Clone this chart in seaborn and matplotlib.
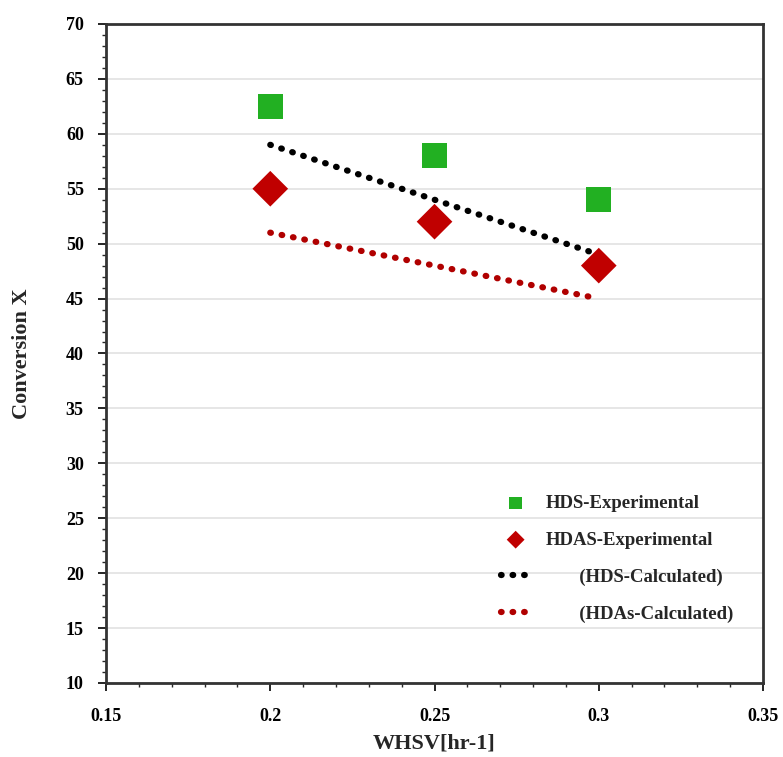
import numpy as np
import pandas as pd
import matplotlib
matplotlib.use("Agg")
import matplotlib.pyplot as plt
import matplotlib.ticker as mticker
import seaborn as sns

# data
whsv = [0.20, 0.25, 0.30]
hds_exp = [62.5, 58.0, 54.0]
hdas_exp = [55.0, 52.0, 48.0]
hds_calc = [59.0, 54.0, 49.0]
hdas_calc = [51.0, 48.0, 45.0]

sns.set_style("white")
plt.rcParams["font.family"] = ["Liberation Serif", "DejaVu Serif"]
plt.rcParams["font.weight"] = "bold"

fig = plt.figure(figsize=(7.83, 7.57), dpi=100)
ax = fig.add_axes([0.1354, 0.0978, 0.8391, 0.8705])

ax.grid(axis="y", color="#e2e2e2", linewidth=1.2)
ax.set_axisbelow(True)

sns.lineplot(x=whsv, y=hds_calc, ax=ax, color="black", linewidth=4.5,
             linestyle=(0, (0.1, 1.75)), dash_capstyle="round",
             label="       (HDS-Calculated)")
sns.lineplot(x=whsv, y=hdas_calc, ax=ax, color="#b00000", linewidth=4.5,
             linestyle=(0, (0.1, 1.75)), dash_capstyle="round",
             label="       (HDAs-Calculated)")
sns.scatterplot(x=whsv, y=hds_exp, ax=ax, marker="s", s=330, color="#22b022",
                edgecolor="none", label="HDS-Experimental")
sns.scatterplot(x=whsv, y=hdas_exp, ax=ax, marker="D", s=330, color="#c00000",
                edgecolor="none", label="HDAS-Experimental")

ax.set_xlim(0.15, 0.35)
ax.set_ylim(10, 70)
ax.xaxis.set_major_locator(mticker.MultipleLocator(0.05))
ax.xaxis.set_minor_locator(mticker.MultipleLocator(0.01))
ax.yaxis.set_major_locator(mticker.MultipleLocator(5))
ax.yaxis.set_minor_locator(mticker.MultipleLocator(1))
ax.xaxis.set_major_formatter(mticker.FuncFormatter(lambda v, p: f"{v:g}"))

ax.tick_params(which="major", direction="out", length=6, width=1.2,
               labelsize=13, colors="black", bottom=True, left=True)
ax.tick_params(axis="y", which="major", pad=10)
ax.tick_params(axis="x", which="major", pad=12)
ax.tick_params(which="minor", direction="out", length=3, width=1,
               bottom=True, left=True)
for sp in ax.spines.values():
    sp.set_color("#333333")
    sp.set_linewidth(2)

ax.set_xlabel("WHSV[hr-1]", fontsize=16, fontweight="bold", labelpad=6)
ax.set_ylabel("Conversion X", fontsize=16, fontweight="bold", labelpad=24)

handles, labels = ax.get_legend_handles_labels()
order = [2, 3, 0, 1]
leg = ax.legend([handles[i] for i in order], [labels[i] for i in order],
                loc="lower right", bbox_to_anchor=(0.98, 0.066), frameon=False,
                fontsize=13.5, handlelength=1.6, labelspacing=1.05,
                markerscale=0.5)

fig.savefig("out.png", dpi=100)
